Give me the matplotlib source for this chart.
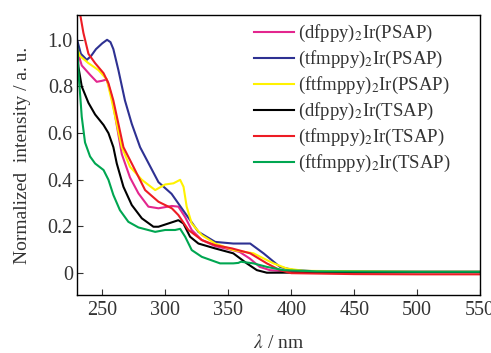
import numpy as np
import matplotlib
matplotlib.use("Agg")
import matplotlib.pyplot as plt

# ===== fontes =====
plt.rcParams['font.family'] = ['Liberation Serif', 'DejaVu Serif']
plt.rcParams['mathtext.fontset'] = 'stix'

# ===== dados =====
labels = ["(dfppy)$_2$Ir(PSAP)", "(tfmppy)$_2$Ir(PSAP)", "(ftfmppy)$_2$Ir(PSAP)",
          "(dfppy)$_2$Ir(TSAP)", "(tfmppy)$_2$Ir(TSAP)", "(ftfmppy)$_2$Ir(TSAP)"]
cores = ["#e3268e", "#2e3192", "#fff200", "#000000", "#ed1c24", "#00a651"]

# (dfppy)2Ir(PSAP)
x_df_psap = [230, 233.7, 240.3, 245.6, 249.6, 253.6, 257.5, 265.5, 272, 278.7, 286.6, 294.6,
             305.2, 310.4, 315.8, 321, 329, 339.6, 353, 359, 367, 375, 383, 400, 450, 500, 550]
y_df_psap = [0.957, 0.89, 0.85, 0.82, 0.824, 0.83, 0.757, 0.51, 0.41, 0.342, 0.285, 0.278,
             0.288, 0.285, 0.24, 0.185, 0.142, 0.116, 0.099, 0.091, 0.063, 0.027, 0.013, 0.006,
             0.006, 0.006, 0.006]

# (tfmppy)2Ir(PSAP)
x_tf_psap = [230, 233, 237.7, 241, 245, 250, 253.8, 256.5, 258.8, 262.8, 268, 273.4, 280, 294.6,
             305, 315.8, 326.3, 339.6, 354, 367.4, 378, 391, 401.8, 420, 450, 500, 550]
y_tf_psap = [1.0, 0.94, 0.914, 0.93, 0.96, 0.985, 1.0, 0.99, 0.96, 0.87, 0.74, 0.64, 0.54, 0.39,
             0.34, 0.257, 0.177, 0.134, 0.127, 0.127, 0.085, 0.027, 0.013, 0.008, 0.007, 0.006,
             0.006]

# (ftfmppy)2Ir(PSAP)
x_ftf_psap = [230, 232.4, 239, 247, 253.6, 257.5, 261.5, 265.5, 272, 281.4, 292, 299.9, 306.5,
              311.8, 314.5, 317, 321, 329, 339.6, 354, 370, 385.9, 396.5, 410, 450, 500, 550]
y_ftf_psap = [0.96, 0.93, 0.90, 0.87, 0.83, 0.74, 0.64, 0.54, 0.456, 0.40, 0.356, 0.38, 0.385,
              0.40, 0.37, 0.285, 0.213, 0.163, 0.127, 0.099, 0.085, 0.042, 0.02, 0.01,
              0.008, 0.006, 0.006]

# (dfppy)2Ir(TSAP)
x_df_tsap = [230, 231, 233.7, 239, 244.3, 251, 254.9, 258.8, 261.5, 266.8, 273.4, 281.4, 290.6,
             294.6, 302.5, 310.4, 314.4, 319.7, 326.3, 339.6, 354, 364.7, 372.7, 380.6, 450, 500, 550]
y_df_tsap = [0.99, 0.885, 0.80, 0.73, 0.68, 0.635, 0.60, 0.54, 0.47, 0.37, 0.292, 0.235, 0.199,
             0.199, 0.213, 0.227, 0.213, 0.156, 0.127, 0.106, 0.085, 0.042, 0.013, 0.002,
             0.003, 0.004, 0.004]

# (tfmppy)2Ir(TSAP)
x_tf_tsap = [230, 232.4, 235, 239, 244.3, 251, 254.9, 258.8, 262.8, 266.8, 274.7, 284, 294.6,
             305.2, 310.4, 318.4, 329, 339.6, 353, 367.4, 380.6, 391, 400, 450, 500, 550]
y_tf_tsap = [1.2, 1.11, 1.03, 0.94, 0.90, 0.857, 0.814, 0.74, 0.64, 0.54, 0.456, 0.356, 0.306,
             0.278, 0.249, 0.185, 0.142, 0.12, 0.106, 0.085, 0.042, 0.013, 0.0, -0.004,
             -0.005, -0.005]

# (ftfmppy)2Ir(TSAP)
x_ftf_tsap = [230, 231, 233.7, 236.3, 240.3, 244.3, 251, 254.9, 258.8, 264, 270.7, 278.7, 292,
              299.9, 307.8, 311.8, 315.8, 321, 329, 343.5, 354, 358, 360, 370, 380.6, 393.8,
              420, 450, 500, 550]
y_ftf_tsap = [0.98, 0.87, 0.67, 0.56, 0.50, 0.47, 0.442, 0.40, 0.335, 0.27, 0.22, 0.196, 0.177,
              0.185, 0.185, 0.19, 0.156, 0.099, 0.07, 0.042, 0.042, 0.044, 0.049, 0.042, 0.027,
              0.013, 0.008, 0.007, 0.006, 0.006]

series = [(x_df_psap, y_df_psap), (x_tf_psap, y_tf_psap), (x_ftf_psap, y_ftf_psap),
          (x_df_tsap, y_df_tsap), (x_tf_tsap, y_tf_tsap), (x_ftf_tsap, y_ftf_tsap)]

# ===== gráfico =====
fig = plt.figure(figsize=(4.91, 3.53), dpi=100)
ax = fig.add_axes([0.157, 0.164, 0.821, 0.794])

for (xs, ys), cor, lab in zip(series, cores, labels):
    ax.plot(xs, ys, color=cor, lw=1.5, label=lab)

ax.set_xlim(230, 550)
ax.set_ylim(-0.094, 1.107)
ax.set_xticks([250, 300, 350, 400, 450, 500, 550])
ax.set_yticks([0, 0.2, 0.4, 0.6, 0.8, 1.0])
ax.set_yticklabels(["0", "0.2", "0.4", "0.6", "0.8", "1.0"])
ax.tick_params(direction='in', length=4.5, width=0.8, labelsize=14.5, colors='#333333',
               top=False, right=False)
ax.tick_params(axis='x', pad=4)
ax.tick_params(axis='y', pad=3)
for s in ax.spines.values():
    s.set_linewidth(1.0)

ax.set_xlabel("$\\lambda$ / nm", fontsize=14, color='#333333', labelpad=10)
ax.set_ylabel("Normalized  intensity / a. u.", fontsize=14, color='#333333', labelpad=12)

leg = ax.legend(loc='upper left', bbox_to_anchor=(0.44, 0.97), frameon=False,
                fontsize=13.5, labelspacing=0.26, handlelength=2.1, handletextpad=0.2,
                borderaxespad=0, borderpad=0)
for t in leg.get_texts():
    t.set_color('#333333')

plt.savefig("out.png", dpi=100)
